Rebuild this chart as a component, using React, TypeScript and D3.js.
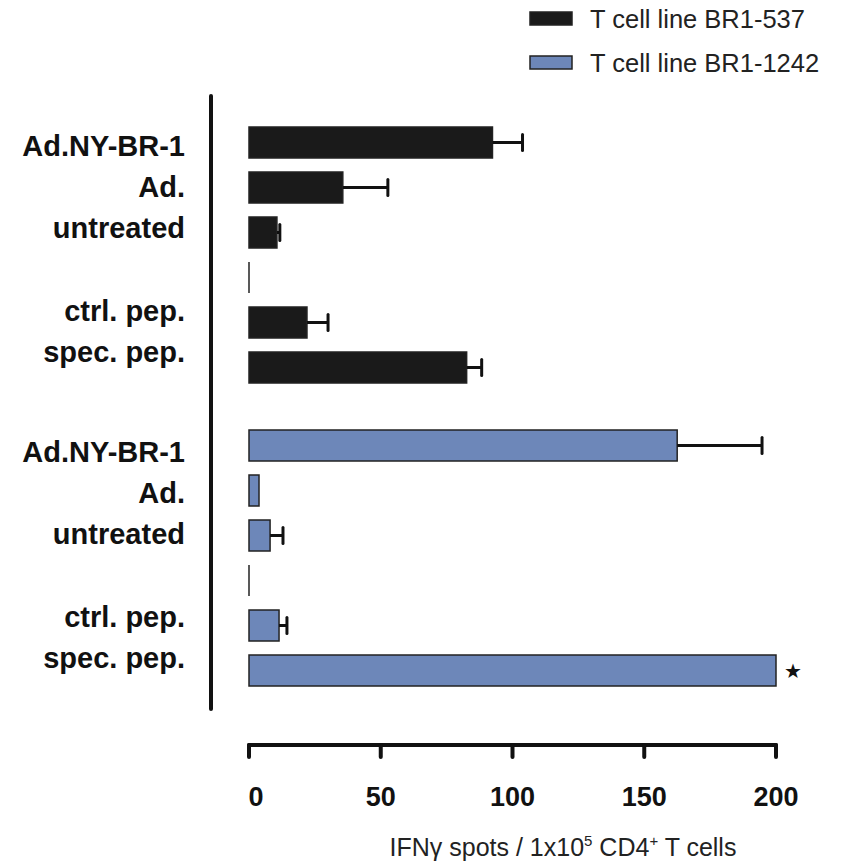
import React from 'react';
import * as d3 from 'd3';

// values
const categories = ['Ad.NY-BR-1', 'Ad.', 'untreated', '', 'ctrl. pep.', 'spec. pep.'];
const seriesNames = ['T cell line BR1-537', 'T cell line BR1-1242'];
const br537Values = [92.4, 35.6, 10.6, 0, 22, 82.6];
const br537Errors = [11.4, 17.1, 1.1, 0, 8, 5.7];
const br1242Values = [162.5, 3.8, 8, 0, 11.4, 200];
const br1242Errors = [32.2, 0, 4.9, 0, 3, 0];
const xTicks = [0, 50, 100, 150, 200];
const xTitle = 'IFNγ spots / 1x10';

const W = 854;
const H = 865;
const FONT = '"Liberation Sans", Arial, sans-serif';
const colors = ['#1a1a1a', '#6d87b9'];

const App = () => {
  const x = d3.scaleLinear().domain([0, 200]).range([249, 776]);
  const idx = d3.range(categories.length);

  // one band scale per group (black then blue)
  const groupTops = [127, 430];
  const yBands = groupTops.map(t =>
    d3.scaleBand<number>().domain(idx).range([t, t + 256]).paddingInner(14 / 45).paddingOuter(0)
  );
  // label baselines are a little tighter than the bars
  const labelTops = [156, 462];
  const yLabels = labelTops.map(t => d3.scalePoint<number>().domain(idx).range([t, t + 206]));

  const series = [
    { values: br537Values, errors: br537Errors },
    { values: br1242Values, errors: br1242Errors },
  ];

  return (
    <svg width={W} height={H} style={{ display: 'block', position: 'absolute', left: 0, top: 0 }} fontFamily={FONT}>
      <rect width={W} height={H} fill="#fff" />

      {/* legend */}
      {seriesNames.map((name, i) => (
        <g key={name}>
          <rect x={530} y={12 + i * 44} width={42} height={13} fill={colors[i]} stroke="#222" strokeWidth={1.5} />
          <text x={590} y={28 + i * 44} fontSize={25.5} fill="#222">{name}</text>
        </g>
      ))}

      {/* vertical axis */}
      <line x1={211} x2={211} y1={96} y2={709} stroke="#111" strokeWidth={4} strokeLinecap="round" />

      {series.map((s, g) => (
        <g key={g}>
          {idx.map(i => {
            const y0 = yBands[g](i)!;
            const bh = yBands[g].bandwidth();
            const cy = y0 + bh / 2;
            const v = s.values[i];
            const e = s.errors[i];
            return (
              <g key={i}>
                {categories[i] && (
                  <text x={185} y={yLabels[g](i)} textAnchor="end" fontSize={29} fontWeight="bold" fill="#111">
                    {categories[i]}
                  </text>
                )}
                {v > 0 ? (
                  <rect x={x(0)} y={y0} width={x(v) - x(0)} height={bh} fill={colors[g]} stroke="#222" strokeWidth={1.5} />
                ) : (
                  <line x1={x(0)} x2={x(0)} y1={y0} y2={y0 + bh} stroke="#222" strokeWidth={1.5} />
                )}
                {e > 0 && (
                  <g stroke="#111" strokeWidth={3}>
                    <line x1={x(v)} x2={x(v + e)} y1={cy} y2={cy} />
                    <line x1={x(v + e)} x2={x(v + e)} y1={cy - 8} y2={cy + 8} strokeLinecap="round" />
                  </g>
                )}
                {g === 1 && v >= 200 && (
                  <text x={x(v) + 8} y={cy + 7} fontSize={20} fontFamily="DejaVu Sans" fill="#111">★</text>
                )}
              </g>
            );
          })}
        </g>
      ))}

      {/* x axis */}
      <g stroke="#111" strokeWidth={4} strokeLinecap="round">
        <line x1={x(0)} x2={x(200)} y1={745} y2={745} />
        {xTicks.map(t => (
          <line key={t} x1={x(t)} x2={x(t)} y1={745} y2={757} />
        ))}
      </g>
      {xTicks.map(t => (
        <text key={t} x={x(t) + (t === 0 ? 7 : 0)} y={806} textAnchor="middle" fontSize={27} fontWeight="bold" fill="#111">
          {t}
        </text>
      ))}
      <text x={563} y={856} textAnchor="middle" fontSize={25} fill="#222">
        {xTitle}
        <tspan fontSize={15} dy={-10}>5</tspan>
        <tspan dy={10}> CD4</tspan>
        <tspan fontSize={15} dy={-10}>+</tspan>
        <tspan dy={10}> T cells</tspan>
      </text>
    </svg>
  );
};

export default App;
